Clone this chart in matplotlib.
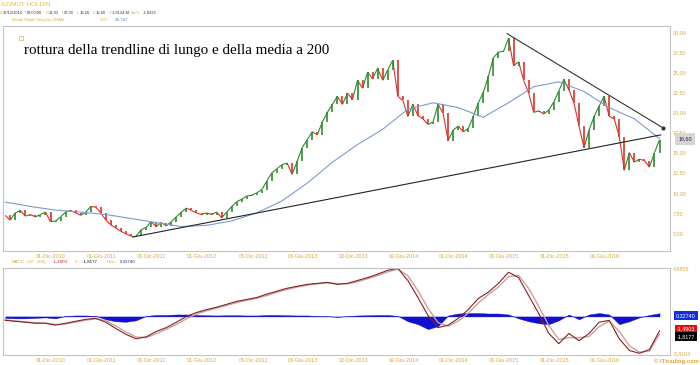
import matplotlib
matplotlib.use("Agg")
import matplotlib.pyplot as plt
import matplotlib.dates as mdates
from matplotlib.collections import LineCollection
import pandas as pd

plt.rcParams['font.family'] = ['Liberation Sans', 'DejaVu Sans']

# ---- data ----
close = [7.2, 6.6, 7.5, 7.8, 7.1, 7.3, 7.0, 7.3, 7.6, 6.4,
         6.5, 7.0, 7.6, 7.8, 7.5, 7.2, 7.6, 8.3, 8.2, 7.5,
         6.6, 6.0, 5.6, 5.2, 4.9, 4.6, 4.6, 5.4, 5.7, 6.4,
         5.8, 6.3, 5.9, 6.4, 7.0, 7.6, 8.1, 7.8, 7.5, 7.3,
         7.5, 7.3, 7.6, 6.9, 7.6, 8.3, 8.9, 9.2, 9.6, 9.7,
         10.0, 10.4, 11.5, 12.5, 13.0, 13.5, 13.7, 12.3, 13.9, 15.6,
         16.6, 17.6, 17.2, 18.8, 20.0, 21.0, 22.0, 21.0, 22.4, 21.6,
         24.0, 23.0, 25.0, 24.2, 25.5, 24.0, 25.3, 26.5, 22.0, 21.5,
         19.5, 21.0, 19.6, 19.2, 18.5, 18.8, 21.0, 19.9, 16.5, 17.8,
         18.3, 17.6, 18.0, 19.5, 21.2, 22.5, 24.5, 26.8, 27.5, 27.6,
         29.2, 25.8, 26.3, 24.0, 22.4, 20.0, 20.2, 19.8, 20.3, 21.3,
         22.7, 24.1, 22.8, 21.2, 18.3, 15.6, 17.8, 19.5, 20.8, 22.0,
         19.5, 19.2, 17.0, 12.8, 15.0, 13.8, 14.2, 14.0, 13.2, 15.0,
         16.6]
price_dates = pd.date_range("2010-06-18", "2016-12-16", periods=len(close))

sma200 = [8.85, 8.3, 7.85, 7.6, 7.3, 6.8, 6.3, 5.8, 5.95, 6.5,
          7.5, 9.0, 11.2, 13.8, 16.0, 17.9, 20.4, 21.2, 20.6, 19.4,
          21.2, 23.2, 23.8, 22.6, 20.6, 19.2, 16.75]
sma_dates = price_dates[::5]

macd = [-0.4, -0.5, -0.6, -0.7, -0.7, -0.9, -0.7, -0.5, -0.3, -0.2,
        -0.6, -1.25, -1.85, -2.3, -2.1, -1.55, -1.15, -0.6, 0.0, 0.4,
        0.7, 0.95, 1.25, 1.55, 1.75, 1.95, 2.3, 2.6, 2.9, 3.1,
        3.3, 3.4, 3.5, 3.3, 3.4, 3.7, 4.0, 4.35, 4.75, 4.95,
        3.7, 1.95, 0.1, -1.15, -0.9, -0.2, 0.7, 1.85, 2.5, 3.4,
        4.55, 4.0, 2.15, 0.3, -1.75, -2.8, -1.75, -2.5, -1.75, -0.6,
        -0.4, -2.3, -3.5, -3.8, -3.4, -1.49]
signal = [-0.35, -0.46, -0.56, -0.66, -0.7, -0.82, -0.78, -0.58, -0.38, -0.24,
          -0.44, -0.99, -1.61, -2.12, -2.18, -1.77, -1.31, -0.82, -0.24, 0.24,
          0.58, 0.85, 1.13, 1.43, 1.67, 1.87, 2.16, 2.48, 2.78, 3.02,
          3.22, 3.36, 3.46, 3.38, 3.36, 3.58, 3.88, 4.21, 4.59, 4.87,
          4.2, 2.65, 0.84, -0.65, -1.0, -0.48, 0.34, 1.39, 2.24, 3.04,
          4.09, 4.22, 2.89, 1.04, -0.93, -2.38, -2.17, -2.2, -2.05, -1.06,
          -0.48, -1.54, -3.02, -3.68, -3.56, -1.82]
hist = [-0.15, -0.2, -0.2, -0.15, -0.1, -0.2, 0.05, 0.1, 0.1, 0.05,
        -0.3, -0.5, -0.55, -0.4, 0.05, 0.15, 0.15, 0.2, 0.2, 0.15,
        0.12, 0.1, 0.12, 0.12, 0.1, 0.1, 0.15, 0.15, 0.12, 0.1,
        0.1, 0.05, 0.03, -0.05, 0.03, 0.1, 0.12, 0.15, 0.15, 0.05,
        -0.5, -0.8, -1.3, -1.0, 0.1, 0.3, 0.35, 0.35, 0.3, 0.3,
        0.2, -0.2, -0.5, -0.7, -0.8, -0.4, 0.2, -0.3, 0.2, 0.35,
        0.2, -0.8, -0.5, -0.1, 0.15, 0.3274]
macd_dates = price_dates[::2]

support_dates = pd.to_datetime(["2011-09-24", "2016-12-20"])
support_vals = [4.5, 17.2]
resist_dates = pd.to_datetime(["2015-06-12", "2016-12-30"])
resist_vals = [29.8, 18.05]

tick_dates = pd.to_datetime(["2010-12-01", "2011-06-01", "2011-12-01", "2012-06-01",
                             "2012-12-03", "2013-06-03", "2013-12-02", "2014-06-02",
                             "2014-12-01", "2015-06-01", "2015-12-01", "2016-06-01"])
tick_labels = ["01-Dic-2010", "01-Giu-2011", "01-Dic-2011", "01-Giu-2012",
               "03-Dic-2012", "03-Giu-2013", "02-Dic-2013", "02-Giu-2014",
               "01-Dic-2014", "01-Giu-2015", "01-Dic-2015", "01-Giu-2016"]
price_ticks = [5, 7.5, 10, 12.5, 15, 17.5, 20, 22.5, 25, 27.5, 30]

GOLD = '#d9a93c'
GRID = '#c4c4c4'
UP, DOWN = '#2f8a2f', '#d8342c'
W, H = 700, 365


def fx(x):
    return x / W


def fy(y):
    return 1 - y / H


fig = plt.figure(figsize=(7, 3.65), dpi=100)
ax = fig.add_axes([fx(3), fy(251), (670 - 3) / W, (251 - 26) / H])
ax2 = fig.add_axes([fx(3), fy(355), (670 - 3) / W, (355 - 268) / H])

xlim = pd.to_datetime(["2010-06-10", "2017-01-23"])

# ---- price panel: thin path + candle-like bodies, green up / red down ----
xnum = mdates.date2num(price_dates)
segs = [[(xnum[i - 1], close[i - 1]), (xnum[i], close[i])]
        for i in range(1, len(close))]
cols = [UP if close[i] >= close[i - 1] else DOWN
        for i in range(1, len(close))]
ax.add_collection(LineCollection(segs, colors=cols, lw=0.8))
lo = [min(a, b) for a, b in zip(close[:-1], close[1:])]
hi = [max(a, b) for a, b in zip(close[:-1], close[1:])]
ax.vlines(price_dates[1:], lo, hi, colors=cols, lw=1.2)
ax.plot(sma_dates, sma200, color='#7c9ccc', lw=0.8)
ax.plot(support_dates, support_vals, color='#222222', lw=0.8)
ax.plot(resist_dates, resist_vals, color='#333333', lw=0.8)
ax.plot(resist_dates[-1:], resist_vals[-1:], 'o', color='#333333', ms=2)

ax.set_xlim(xlim)
ax.set_ylim(2.76, 30.75)
ax.yaxis.tick_right()
ax.set_yticks(price_ticks)
ax.set_yticklabels([f"{v:.2f}".replace('.', ',') for v in price_ticks])
ax.set_xticks(tick_dates)
ax.set_xticklabels(tick_labels)
ax.tick_params(length=0, labelsize=3.9, colors=GOLD, pad=2)
for s in ax.spines.values():
    s.set_color(GRID)
    s.set_linewidth(0.8)

ax.text(0.032, 0.89, "rottura della trendline di lungo e della media a 200",
        transform=ax.transAxes, family='Liberation Serif', fontsize=10.8,
        color='black', va='center')
ax.plot([0.027], [0.945], 's', transform=ax.transAxes, ms=3.5,
        mfc='white', mec='#e0c070', mew=0.6)

# ---- MACD panel ----
ax2.fill_between(macd_dates, 0, hist, color='#1010d0', lw=0.3)
ax2.plot(macd_dates, signal, color='#c9a0a0', lw=1.0)
ax2.plot(macd_dates, macd, color='#8a2020', lw=0.8)
ax2.set_xlim(xlim)
ax2.set_ylim(-3.97, 4.9856)
ax2.yaxis.tick_right()
ax2.set_yticks([-3.8163, 4.9856])
ax2.set_yticklabels(["-3,8163", "4,9856"])
ax2.set_xticks(tick_dates)
ax2.set_xticklabels(tick_labels)
ax2.tick_params(length=0, labelsize=3.9, colors=GOLD, pad=2)
for s in ax2.spines.values():
    s.set_color(GRID)
    s.set_linewidth(0.8)

# ---- header texts ----
fig.text(fx(1), fy(5), "AZIMUT HOLDIN", color='#e3b84e', fontsize=4.6,
         va='center')
hdr = [(0, "D", GOLD), (3, "17/12/2016", '#333333'), (24, "T", GOLD),
       (27, "00:00:00", '#333333'), (46, "O", GOLD), (49, "16,93", '#333333'),
       (62, "H", GOLD), (64, "17,00", '#333333'), (77, "L", GOLD),
       (80, "16,26", '#333333'), (93, "C", GOLD), (96, "16,60", '#333333'),
       (109, "V", GOLD), (112, "1,8124 M", '#333333'), (131, "Var%", GOLD),
       (143, "-1,8332", '#333333')]
for x, t, c in hdr:
    fig.text(fx(x), fy(13), t, color=c, fontsize=2.9, va='center')
fig.text(fx(12), fy(20), "Medie Mobili Semplici (SMA):", color=GOLD,
         fontsize=3.0, va='center')
fig.text(fx(100), fy(20), "200 :", color=GOLD, fontsize=3.0, va='center')
fig.text(fx(115), fy(20), "16,747", color='#4a78c0', fontsize=3.2, va='center')

mh = [(12, "MACD", GOLD), (27, "(32 , 200):", GOLD), (53, "-1,4903", '#c02020'),
      (75, "9 :", GOLD), (83, "-1,8177", '#111111'), (107, "Hist :", GOLD),
      (120, "0,32740", '#1a2a80')]
for x, t, c in mh:
    fig.text(fx(x), fy(262), t, color=c, fontsize=3.2, va='center')

# ---- value boxes on the right ----
fig.text(fx(685), fy(139), "16,60", color='#222222', fontsize=3.9,
         ha='center', va='center',
         bbox=dict(boxstyle='square,pad=0.6', fc='#d6d6d6', ec='none'))
for y, t, fc in [(315.5, "0,32740", '#1030e0'), (329, "-1,4903", '#e01010'),
                 (336.7, "-1,8177", '#000000')]:
    fig.text(fx(686), fy(y), t, color='white', fontsize=3.9, ha='center',
             va='center',
             bbox=dict(boxstyle='square,pad=0.35', fc=fc, ec='none'))

fig.text(fx(699), fy(361), "\u00a9 ITtrading.com", color=GOLD, fontsize=4.2,
         weight='bold', ha='right', va='center')

fig.savefig("out.png", dpi=100)
